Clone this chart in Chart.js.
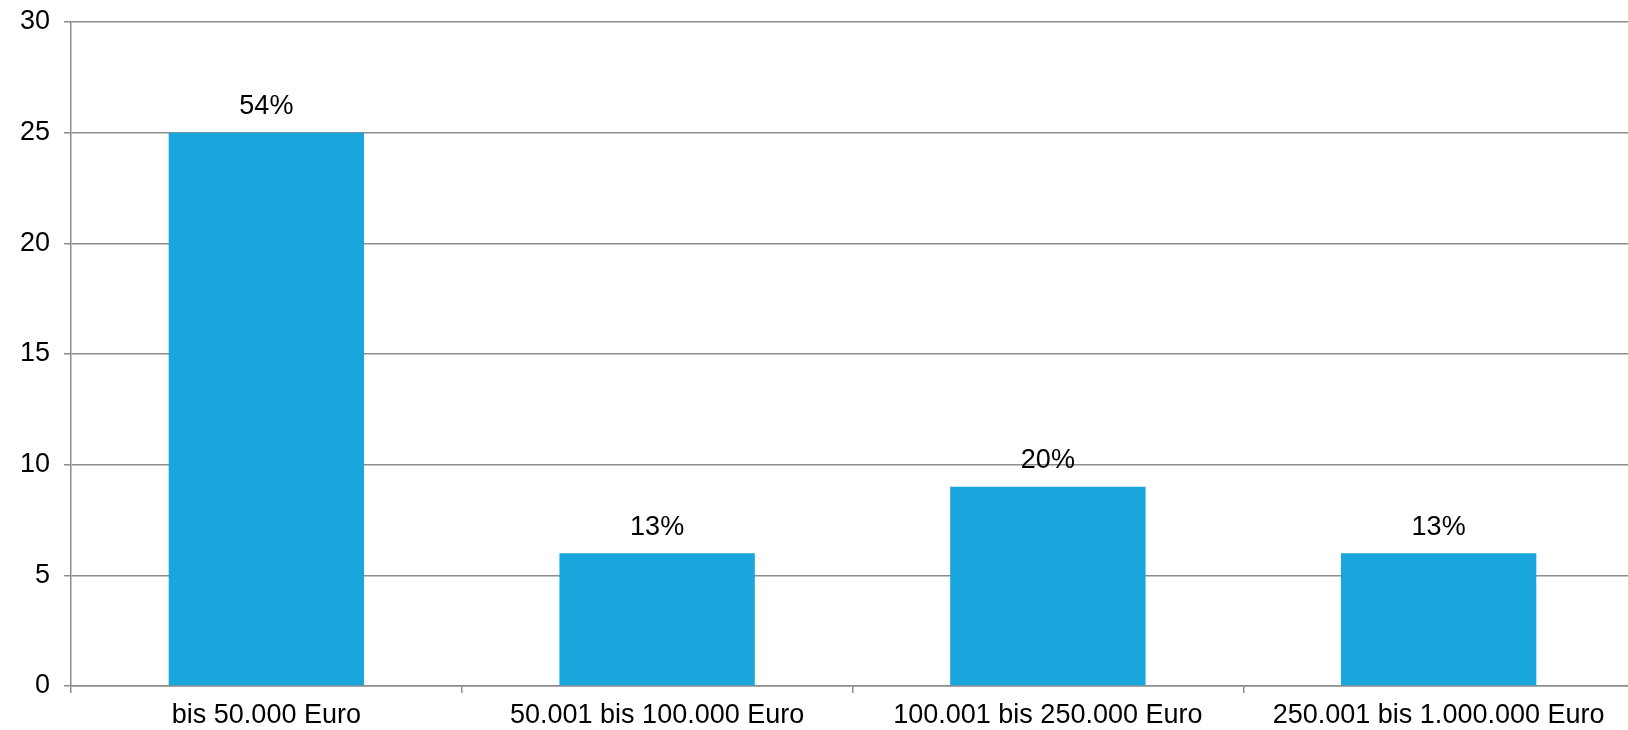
<!DOCTYPE html>
<html>
<head>
<meta charset="utf-8">
<script src="https://cdn.jsdelivr.net/npm/chart.js@4/dist/chart.umd.min.js"></script>
<style>
  html, body { margin: 0; padding: 0; background: #fff; overflow: hidden; }
</style>
</head>
<body>
<canvas id="barChart" width="1634" height="730"></canvas>
<script>
// data
var categories = ["bis 50.000 Euro", "50.001 bis 100.000 Euro", "100.001 bis 250.000 Euro", "250.001 bis 1.000.000 Euro"];
var counts = [25, 6, 9, 6];
var shares = ["54%", "13%", "20%", "13%"];
var yTicks = [0, 5, 10, 15, 20, 25, 30];

var gridGray = "#8c8c8c";
var fontFamily = "'Liberation Sans', Arial, Helvetica, sans-serif";

// labels above the bars
var barLabels = {
  id: 'barLabels',
  afterDatasetsDraw: function(chart) {
    var ctx = chart.ctx;
    var meta = chart.getDatasetMeta(0);
    ctx.save();
    ctx.font = "27px " + fontFamily;
    ctx.fillStyle = "#000";
    ctx.textAlign = "center";
    ctx.textBaseline = "middle";
    meta.data.forEach(function(bar, i) {
      ctx.fillText(shares[i], bar.x, bar.y - 26);
    });
    ctx.restore();
  }
};

var ctxB = document.getElementById("barChart").getContext('2d');
var myBarChart = new Chart(ctxB, {
  type: 'bar',
  data: {
    labels: categories,
    datasets: [{
      data: counts,
      backgroundColor: "#18a6dc",
      borderWidth: 0,
      barPercentage: 0.5,
      categoryPercentage: 1.0
    }]
  },
  options: {
    responsive: false,
    animation: false,
    layout: { padding: { top: 22, right: 0, left: 0, bottom: 0 } },
    plugins: {
      legend: { display: false },
      tooltip: { enabled: false }
    },
    scales: {
      x: {
        afterFit: function(scale) { scale.height = 44; },
        grid: { offset: true, drawOnChartArea: false, color: gridGray, tickLength: 7, lineWidth: 1.5 },
        border: { color: gridGray, width: 1.5 },
        ticks: { color: "#000", font: { family: fontFamily, size: 27 }, padding: 6, maxRotation: 0, autoSkip: false }
      },
      y: {
        min: 0,
        max: 30,
        afterFit: function(scale) {
          scale.width = 71;
          scale.paddingTop = 0;
          scale.paddingBottom = 0;
        },
        afterBuildTicks: function(scale) { scale.ticks = yTicks.map(function(v) { return { value: v }; }); },
        grid: { color: gridGray, tickLength: 7, lineWidth: 1.5 },
        border: { color: gridGray, width: 1.5 },
        ticks: { color: "#000", font: { family: fontFamily, size: 27 }, padding: 14 }
      }
    }
  },
  plugins: [barLabels]
});
</script>
</body>
</html>
